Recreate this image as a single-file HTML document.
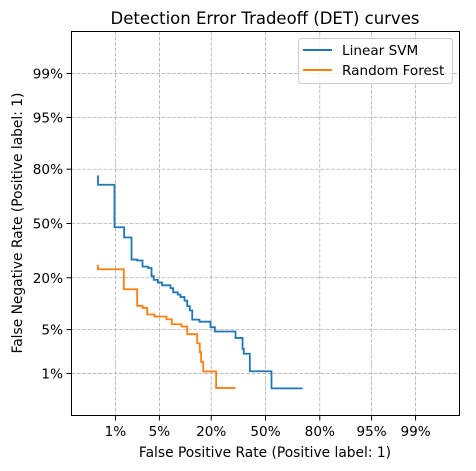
<!DOCTYPE html>
<html><head><meta charset="utf-8">
<style>
body{margin:0;background:#fff;}
svg{display:block;font-family:"DejaVu Sans","Liberation Sans",sans-serif;}
</style></head>
<body>
<svg id="chart" width="476" height="471" viewBox="0 0 476 471">
  <rect width="476" height="471" fill="#fff"/>
  <text x="265" y="24" text-anchor="middle" font-size="16.5" fill="#000">Detection Error Tradeoff (DET) curves</text>
  <g id="grid"></g>
  <g id="series"></g>
  <rect x="71.5" y="31.5" width="388" height="384" fill="none" stroke="#000" stroke-width="1"/>
  <g id="ticks"></g>
  <text x="265" y="457" text-anchor="middle" font-size="13.8">False Positive Rate (Positive label: 1)</text>
  <text transform="translate(22,223) rotate(-90)" text-anchor="middle" font-size="13.8">False Negative Rate (Positive label: 1)</text>
  <g>
    <rect x="298.5" y="38.5" width="154" height="45" rx="3" fill="#fff" fill-opacity="0.8" stroke="#ccc"/>
    <g>
      <line x1="303" y1="50" x2="332" y2="50" stroke="#1f77b4" stroke-width="2"/>
      <text x="342" y="55" font-size="13.6">Linear SVM</text>
    </g>
    <g>
      <line x1="303" y1="70" x2="332" y2="70" stroke="#ff7f0e" stroke-width="2"/>
      <text x="342" y="75" font-size="13.6">Random Forest</text>
    </g>
  </g>
</svg>
<script>
const tickValues = [0.01, 0.05, 0.2, 0.5, 0.8, 0.95, 0.99];
const tickLabels = ["1%", "5%", "20%", "50%", "80%", "95%", "99%"];
const svmFpr = [0.0047,0.0096,0.0142,0.0189,0.0233,0.0283,0.0345,0.0386,0.0416,0.0475,0.0546,0.0704,0.0762,0.0869,0.0938,0.1046,0.1124,0.1202,0.128,0.153,0.197,0.216,0.321,0.361,0.368,0.404,0.537,0.718];
const svmFnr = [0.772,0.726,0.477,0.414,0.288,0.283,0.252,0.245,0.207,0.191,0.180,0.169,0.158,0.143,0.135,0.127,0.116,0.100,0.089,0.068,0.064,0.054,0.047,0.038,0.026,0.0217,0.011,0.0053];
const rfFpr = [0.0047,0.0140,0.0233,0.0283,0.0333,0.0426,0.0624,0.0731,0.0964,0.1124,0.1448,0.154,0.159,0.167,0.222,0.321];
const rfFnr = [0.261,0.239,0.154,0.101,0.0956,0.0791,0.0747,0.0689,0.0592,0.0551,0.0431,0.0317,0.0230,0.0160,0.0109,0.0054];

function ppf(p){
  const a=[-39.69683028665376,220.9460984245205,-275.9285104469687,138.3577518672690,-30.66479806614716,2.506628277459239];
  const b=[-54.47609879822406,161.5858368580409,-155.6989798598866,66.80131188771972,-13.28068155288572];
  const c=[-0.007784894002430293,-0.3223964580411365,-2.400758277161838,-2.549732539343734,4.374664141464968,2.938163982698783];
  const d=[0.007784695709041462,0.3224671290700398,2.445134137142996,3.754408661907416];
  const pl=0.02425;
  let q,r;
  if(p<pl){q=Math.sqrt(-2*Math.log(p));return (((((c[0]*q+c[1])*q+c[2])*q+c[3])*q+c[4])*q+c[5])/((((d[0]*q+d[1])*q+d[2])*q+d[3])*q+1);}
  if(p>1-pl){q=Math.sqrt(-2*Math.log(1-p));return -(((((c[0]*q+c[1])*q+c[2])*q+c[3])*q+c[4])*q+c[5])/((((d[0]*q+d[1])*q+d[2])*q+d[3])*q+1);}
  q=p-0.5;r=q*q;
  return (((((a[0]*r+a[1])*r+a[2])*r+a[3])*r+a[4])*r+a[5])*q/(((((b[0]*r+b[1])*r+b[2])*r+b[3])*r+b[4])*r+1);
}
const CX=265.5, CY=223.5, S=64.5;
function xs(p){return CX+S*ppf(p);}
function ys(p){return CY-S*ppf(p);}
const NS="http://www.w3.org/2000/svg";
const grid=document.getElementById('grid'), ticks=document.getElementById('ticks'), series=document.getElementById('series');
tickValues.forEach((v,i)=>{
  const x=xs(v), y=ys(v);
  const gx=document.createElementNS(NS,'line');
  gx.setAttribute('x1',x);gx.setAttribute('x2',x);gx.setAttribute('y1',31.5);gx.setAttribute('y2',415.5);
  gx.setAttribute('stroke','#b0b0b0');gx.setAttribute('stroke-dasharray','3.7,1.6');gx.setAttribute('stroke-width','0.8');
  
  
  grid.appendChild(gx);
  const gy=document.createElementNS(NS,'line');
  gy.setAttribute('y1',y);gy.setAttribute('y2',y);gy.setAttribute('x1',71.5);gy.setAttribute('x2',459.5);
  gy.setAttribute('stroke','#b0b0b0');gy.setAttribute('stroke-dasharray','3.7,1.6');gy.setAttribute('stroke-width','0.8');
  
  
  grid.appendChild(gy);
  const tx=document.createElementNS(NS,'line');
  tx.setAttribute('x1',x);tx.setAttribute('x2',x);tx.setAttribute('y1',415.5);tx.setAttribute('y2',420.5);tx.setAttribute('stroke','#000');
  
  
  ticks.appendChild(tx);
  const lx=document.createElementNS(NS,'text');
  lx.setAttribute('x',x);lx.setAttribute('y',436);lx.setAttribute('text-anchor','middle');lx.setAttribute('font-size','13.6');
  lx.textContent=tickLabels[i];
  
  
  ticks.appendChild(lx);
  const ty=document.createElementNS(NS,'line');
  ty.setAttribute('y1',y);ty.setAttribute('y2',y);ty.setAttribute('x1',66.5);ty.setAttribute('x2',71.5);ty.setAttribute('stroke','#000');
  
  
  ticks.appendChild(ty);
  const ly=document.createElementNS(NS,'text');
  ly.setAttribute('x',63);ly.setAttribute('y',y+5);ly.setAttribute('text-anchor','end');ly.setAttribute('font-size','13.6');
  ly.textContent=tickLabels[i];
  
  
  ticks.appendChild(ly);
});
function drawSteps(X,Y,color,name){
  let d='M'+xs(X[0]).toFixed(2)+','+ys(Y[0]).toFixed(2);
  for(let i=0;i<X.length-1;i++){
    d+=' V'+ys(Y[i+1]).toFixed(2)+' H'+xs(X[i+1]).toFixed(2);
  }
  const p=document.createElementNS(NS,'path');
  p.setAttribute('d',d);p.setAttribute('fill','none');p.setAttribute('stroke',color);p.setAttribute('stroke-width','1.8');
  
  
  series.appendChild(p);
}
drawSteps(svmFpr,svmFnr,'#1f77b4','linear-svm-curve');
drawSteps(rfFpr,rfFnr,'#ff7f0e','random-forest-curve');
</script>
</body></html>
